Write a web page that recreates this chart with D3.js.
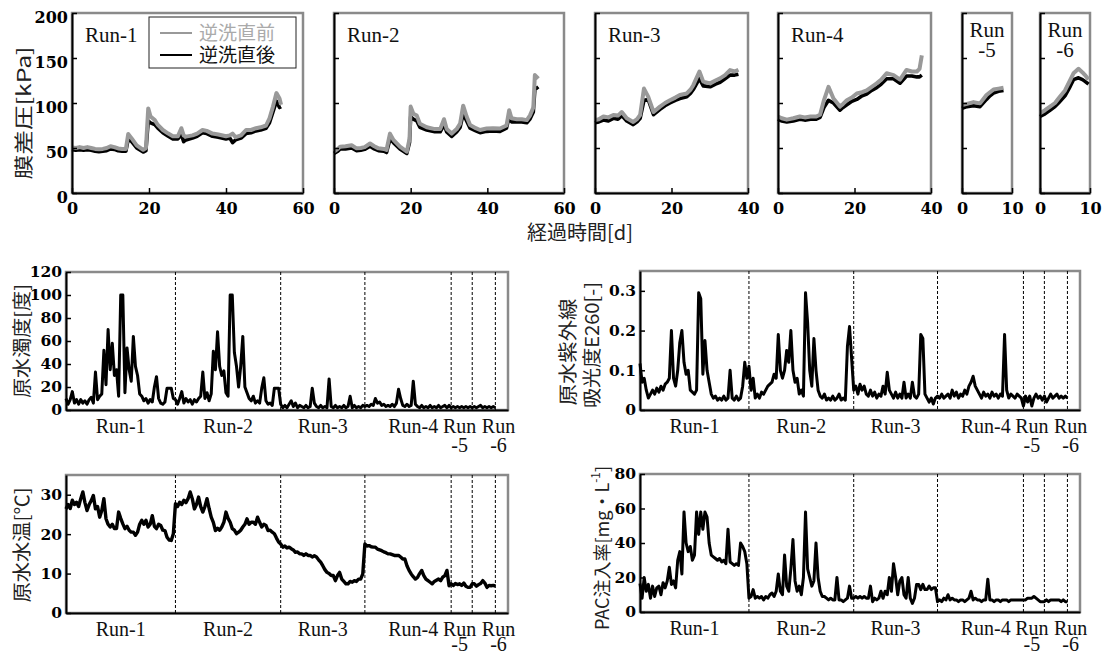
<!DOCTYPE html>
<html><head><meta charset="utf-8">
<script src="https://cdn.jsdelivr.net/npm/d3@7"></script>
<style>
body{margin:0;background:#fff}svg{display:block}
text.num{font-family:"DejaVu Serif",serif;font-weight:bold}
text.ser{font-family:"Liberation Serif","DejaVu Serif",serif;font-weight:normal}
text.cjk{font-family:"Noto Sans CJK JP",sans-serif}
</style>
</head><body>
<svg id="c" width="1106" height="655"></svg>
<script>
// ---------- DATA: membrane differential pressure [kPa] per run ----------
const tmpTicks = [0, 50, 100, 150, 200];
const run1Day = [0,1,2,3,4,5,6,7,8,9,10,11,12,13,14,14.6,15.5,16.8,18.5,19.2,19.8,20.4,21.5,22.3,23.6,25,26.2,27.5,28.4,29,29.6,31.3,32.5,33.9,35,36.5,38,40,41,41.7,42.5,43.9,45.2,46.5,47.8,49,50.4,51.3,52.2,53.1,53.9,54.3];
const run1Before = [50.7,50,51,50,51,50,49,48.5,49,50,52,51,49.5,49,49,65.6,60.7,53,48,50,94,85,81,75.6,70,66,63,63,72,64,62.6,64,66,70,69,66,65,63,64,66,62,64,70,70,72,73,75,83,96,111,105,98];
const run1After = [48,47.5,48,47.5,48,47.5,46.5,46,46.5,47,49,48.5,47,46.5,46.5,60,57,50,45.5,47,80,78,76,72,67,63,60,60,65,57,59,61,63,67,66,63,62,60,61,56,59,61,66,67,69,70,72,78,90,102,95,96];
const run2Day = [0,1,1.6,3,4.6,5.9,7,8,9.4,10.5,11.6,13,13.7,14.6,15.5,17.2,19,19.7,20,20.7,21.6,22.4,24.2,26.3,27.7,28.7,29.4,30.7,32,32.9,33.7,34.6,35.5,37,38.1,39.8,41.5,43.3,45,45.7,46.3,47.7,49,50.3,51.1,52,52.4,53.3];
const run2Before = [46,49,51.5,52,53,49.6,50,51,55,52,49.6,49,47.8,66,59,51.5,46,60,96,88,86,77,73,71,71,82,71,66,71,77,97,85,75.6,72,70,71.6,72,71.6,75,92,83,82,82,81,86,95,131,127];
const run2After = [44,46.5,49,49,50,47,47.5,48.5,52,49,47,46.5,45,60,56,49,44,56,85,82,80,73,70,68,68,76,68,63,68,73,88,80,72,69,67,68.5,69,68.5,72,85,79,79,79,78,82,90,115,118];
const run3Day = [0,1,2.2,3.5,4.8,6,7,8.3,10,11,11.8,12.8,13.9,15.3,17,18.3,19.6,21,22.2,24,25,25.7,27.3,28.3,30.1,31.5,32.7,34,35.3,36.5,37.5];
const run3Before = [81,82,85,84,86.7,86,90,83,79,82,86.7,116,107,90,96,100,103,106,108.9,110.6,115,119.8,135,123.7,121.8,125,127.4,131,136.6,135,137];
const run3After = [78,79,81,80,83,82,86,80,76,79,83,103,104,87,93,97,100,103,105,107,111,115,127,119,118,121,123,127,131,131,132];
const run4Day = [0,1,2.3,4,5.7,7,8.5,10,11,12,13.2,14.5,16.2,17,18,19.3,20.6,22,23.2,24.5,25.8,27,28.4,30.2,31.9,33.6,35,36.3,37,37.6];
const run4Before = [85,83,81.5,83,85,84,85,85,87,103,118,105,96,99,103,106,110.6,112,114,118,121.8,126,133,131,125.9,136.7,135,135,138,153];
const run4After = [82,80,79,80,82,81,82,82,84,95,103,100,92,95,98,102,104,108,110,114,117,121,127,127,122,130,130,129,129,131];
const run5Day = [0,1,2.3,3.6,4.9,5.6,6.3,7.3,8.3];
const run5Before = [97.8,99,101,99.6,108.9,112,115,116,117];
const run5After = [94,96,97,96,104,108,111,113,114];
const run6Day = [0,1,2,3,3.7,5,6,6.7,7.7,8.5,9,9.7];
const run6Before = [88.5,92,96,100,105,114,125,133,138,134,131,126];
const run6After = [85,88,92,96,100,108,118,126,128,126,124,121];

// ---------- DATA: raw water quality, one value per elapsed day (0..204) ----------
const turbidity = [
 10,5,9,16,6,9,5,9,6,8,5,9,11,6,33,9,12,14,52,22,70,35,58,30,35,12,100,100,15,54,35,25,64,38,30,14,12,8,10,6,9,7,20,29,10,6,5,7,19,19,19,10,
 9,5,10,16,6,10,7,9,5,9,7,10,12,33,10,15,8,14,51,35,68,38,30,34,15,12,100,100,50,38,20,38,64,20,15,10,8,12,6,8,6,19,28,8,5,6,4,19,19,19,
 5,2,4,2,5,8,3,6,2,4,3,2,4,2,3,19,6,3,2,4,2,3,2,27,3,2,4,2,3,2,4,2,3,12,2,4,2,3,2,4,
 3,4,3,5,4,10,6,7,4,5,3,4,3,5,3,6,18,10,4,3,5,3,4,25,5,3,2,4,2,3,2,4,2,3,2,4,2,3,4,2,4,
 2,3,2,3,2,3,2,3,2,3,2,3,2,3,4,2,3,2,3,2,3,2];
const uvAbs = [
 0.117,0.07,0.08,0.05,0.03,0.04,0.05,0.04,0.055,0.045,0.06,0.05,0.065,0.07,0.08,0.2,0.08,0.06,0.1,0.17,0.2,0.12,0.09,0.1,0.05,0.045,0.04,0.05,0.295,0.28,0.09,0.175,0.1,0.07,0.04,0.03,0.035,0.025,0.03,0.025,0.035,0.025,0.03,0.1,0.03,0.025,0.035,0.025,0.03,0.06,0.12,0.08,
 0.11,0.05,0.08,0.03,0.04,0.03,0.045,0.04,0.05,0.06,0.065,0.07,0.09,0.08,0.19,0.1,0.08,0.1,0.15,0.12,0.2,0.1,0.07,0.08,0.04,0.05,0.035,0.295,0.22,0.1,0.06,0.18,0.1,0.05,0.035,0.03,0.04,0.025,0.03,0.025,0.035,0.025,0.03,0.04,0.025,0.03,0.025,0.16,0.21,0.13,
 0.05,0.06,0.04,0.065,0.05,0.06,0.04,0.035,0.05,0.035,0.045,0.03,0.04,0.035,0.06,0.04,0.095,0.05,0.04,0.03,0.045,0.03,0.04,0.03,0.07,0.03,0.04,0.03,0.07,0.035,0.03,0.04,0.19,0.18,0.04,0.03,0.02,0.03,0.015,0.03,
 0.035,0.03,0.04,0.03,0.035,0.04,0.03,0.05,0.035,0.045,0.03,0.04,0.035,0.05,0.04,0.06,0.07,0.085,0.06,0.05,0.04,0.03,0.045,0.035,0.04,0.03,0.045,0.035,0.04,0.03,0.04,0.035,0.19,0.05,0.03,0.04,0.035,0.03,0.04,0.035,0.03,
 0.01,0.035,0.02,0.035,0.01,0.03,0.04,0.03,0.035,0.025,0.035,0.02,0.03,0.04,0.03,0.035,0.04,0.03,0.035,0.03,0.035,0.03];
const waterTemp = [
 26.4,27.5,26.5,28.6,27.5,28.1,27,29,30.7,28,26,27.5,28.5,29.8,26.4,27,24.3,26,29,23.9,22.5,21.8,22.5,21.4,21.4,25.6,24,22.6,21.4,22,21,20.5,20.5,19.7,20.5,22.5,23.5,22.5,23.5,21.8,22.5,24.7,22,21.4,22.5,22.2,21,20.9,19.2,18.5,18.4,20.1,
 27.7,27,28.1,27.5,28.6,28,29,30.7,29,26.4,27.5,29.4,27,25.6,27,29,26.5,24.3,23,20.9,21.5,21,21.8,23,25.6,24,23,21.4,21,20.1,20.5,21,21.8,22.5,23.9,22.5,23,23,22.5,24.3,23,21.8,22.5,22.2,20.9,21,20.5,20.1,19,18,
 17.5,16.7,17,16.5,16.7,16.3,16,15.4,15.5,15,15,14.6,15,14.6,14.6,14.2,14.5,14.2,13.5,12.9,12,11,10.3,10,9.5,9.5,8.2,9.5,10.3,8.6,8,7.4,7.4,8,7.8,8.2,8,8.6,8.6,9.9,
 17.5,17,17.1,16.8,16.7,16.7,16.2,16,15.8,15.5,15.3,15,15,14.8,14.6,14.6,14.6,14.2,13.7,13.7,12,10.8,9.9,9.2,8.6,9,10,10.8,9.5,8.6,8.2,7.8,7.4,8,8.3,8.6,8.2,9.1,9.5,10.8,6.9,
 7.4,7,7.5,7.2,7.4,7,7.6,6.8,6.5,6.5,7.4,7.4,6.8,7.2,7.5,8.2,7.6,6.5,7,6.9,7,6.8];
const pacDose = [
 16.5,8,20,12,16,8,15,9,14,15,10,17,14,18,26,16,18,14,30,35,22,58,40,35,38,30,33,58,45,58,48,58,55,40,33,32,31,30,31,29,30,28,48,29,28,27,28,27,40,38,35,28,
 8,9,13,8,9,8,9,7,9,8,10,11,9,12,22,12,10,33,15,12,25,42,18,12,15,10,20,58,25,20,15,18,40,20,12,9,9,8,7,8,7,7,20,7,7,6,7,8,15,8,
 8,9,8,9,8,9,8,8,15,6,8,7,8,12,8,12,10,20,12,28,20,10,18,20,10,8,20,8,5,8,16,16,13,16,13,13,15,13,14,14,
 6,7,6,8,7,10,7,8,7,7,6,7,7,6,7,8,12,7,8,7,7,6,7,7,19,7,7,6,7,7,6,7,7,7,6,7,7,7,7,7,7,
 7,7,8,8,8,9,8,7,6,6,6,7,6,7,7,7,7,7,6,7,6,6];
const runBounds = [52, 102, 142, 183, 193, 204];
const runLabelDay = [26, 77, 122, 165, 187, 205.5];
const runLabel1 = ["Run-1", "Run-2", "Run-3", "Run-4", "Run", "Run"];
const runLabel2 = ["", "", "", "", "-5", "-6"];
const turbTicks = [0, 20, 40, 60, 80, 100, 120];
const uvTicks = [0, 0.1, 0.2, 0.3];
const tempTicks = [0, 10, 20, 30];
const pacTicks = [0, 20, 40, 60, 80];
const legendNames = ["逆洗直前", "逆洗直後"];

// ---------- DRAWING ----------
const svg = d3.select("#c");
const GREY = "#999";
const FRAME = "#8a8a8a";

function styleAxis(g, fs) {
  g.attr("font-family", null).attr("font-size", null);
  g.select(".domain").attr("stroke", "#000").attr("stroke-width", 2);
  g.selectAll(".tick line").attr("stroke", "#000").attr("stroke-width", 1.5);
  g.selectAll(".tick text").attr("class", "num").attr("font-size", fs).attr("fill", "#000");
}

function vLabel(x, y, txt, len, fs) {
  const t = svg.append("text").attr("class", "cjk").attr("transform", `translate(${x},${y}) rotate(-90)`)
    .attr("text-anchor", "middle").attr("dominant-baseline", "central")
    .attr("font-size", fs).attr("fill", "#222").text(txt);
  if (len) t.attr("textLength", len).attr("lengthAdjust", "spacingAndGlyphs");
  return t;
}

const topPanels = [
  {x0: 72, x1: 303, max: 60, ticks: [0,20,40,60], d: run1Day, b: run1Before, a: run1After, lab: ["Run-1"], yl: true},
  {x0: 334, x1: 564, max: 60, ticks: [0,20,40,60], d: run2Day, b: run2Before, a: run2After, lab: ["Run-2"]},
  {x0: 595, x1: 748, max: 40, ticks: [0,20,40], d: run3Day, b: run3Before, a: run3After, lab: ["Run-3"]},
  {x0: 778, x1: 931, max: 40, ticks: [0,20,40], d: run4Day, b: run4Before, a: run4After, lab: ["Run-4"]},
  {x0: 962, x1: 1012, max: 10, ticks: [0,10], d: run5Day, b: run5Before, a: run5After, lab: ["Run", "-5"]},
  {x0: 1040, x1: 1090, max: 10, ticks: [0,10], d: run6Day, b: run6Before, a: run6After, lab: ["Run", "-6"]}
];
const TY0 = 13, TY1 = 193;
topPanels.forEach(p => {
  const x = d3.scaleLinear().domain([0, p.max]).range([p.x0, p.x1]);
  const y = d3.scaleLinear().domain([0, 200]).range([TY1, TY0]);
  svg.append("rect").attr("x", p.x0).attr("y", TY0).attr("width", p.x1 - p.x0).attr("height", TY1 - TY0)
    .attr("fill", "none").attr("stroke", FRAME).attr("stroke-width", 2.5);
  const line = d3.line().x((v, i) => x(p.d[i])).y(v => y(v));
  svg.append("path").attr("d", line(p.a)).attr("fill", "none").attr("stroke", "#000").attr("stroke-width", 3.6).attr("stroke-linejoin", "round");
  svg.append("path").attr("d", line(p.b)).attr("fill", "none").attr("stroke", GREY).attr("stroke-width", 4).attr("stroke-linejoin", "round");
  const gy = svg.append("g").attr("transform", `translate(${p.x0},0)`)
    .call(d3.axisLeft(y).tickValues(tmpTicks).tickSize(-5).tickSizeOuter(0).tickPadding(4)
      .tickFormat(p.yl ? d3.format("d") : ""));
  styleAxis(gy, 16);
  gy.selectAll(".tick text").attr("dy", "0.62em");
  const gx = svg.append("g").attr("transform", `translate(0,${TY1})`)
    .call(d3.axisBottom(x).tickValues(p.ticks).tickSize(-5).tickSizeOuter(0).tickPadding(10).tickFormat(d3.format("d")));
  styleAxis(gx, 16);
  if (p.lab.length === 1) {
    svg.append("text").attr("class", "ser").attr("x", p.x0 + 13).attr("y", 42).attr("font-size", 21)
      .attr("fill", "#111").text(p.lab[0]);
  } else {
    const cx = (p.x0 + p.x1) / 2;
    p.lab.forEach((s, k) => svg.append("text").attr("class", "ser").attr("x", cx).attr("y", 37 + 20 * k).attr("text-anchor", "middle")
      .attr("font-size", 21).attr("fill", "#111").text(s));
  }
});
// legend
svg.append("rect").attr("x", 149).attr("y", 17).attr("width", 147).attr("height", 51)
  .attr("fill", "#fff").attr("stroke", "#222").attr("stroke-width", 1);
[[GREY, 33], ["#000", 55]].forEach(([c, yy], k) => {
  svg.append("line").attr("x1", 160).attr("x2", 192).attr("y1", yy).attr("y2", yy).attr("stroke", c).attr("stroke-width", 2);
  svg.append("text").attr("class", "cjk").attr("x", 199).attr("y", yy + 7).attr("font-size", 19)
    .attr("fill", k === 0 ? "#aaa" : "#111").text(legendNames[k]);
});
vLabel(22, 113, "膜差圧[kPa]", 133, 19);
svg.append("text").attr("class", "cjk").attr("x", 580).attr("y", 240).attr("text-anchor", "middle")
  .attr("font-size", 20).attr("fill", "#222").text("経過時間[d]");

// lower panels
function lowPanel(cfg) {
  const x = d3.scaleLinear().domain([0, 210]).range([cfg.x0, cfg.x1]);
  const y = d3.scaleLinear().domain(cfg.dom).range([cfg.y1, cfg.y0]);
  svg.append("rect").attr("x", cfg.x0).attr("y", cfg.y0).attr("width", cfg.x1 - cfg.x0).attr("height", cfg.y1 - cfg.y0)
    .attr("fill", "none").attr("stroke", FRAME).attr("stroke-width", 2.5);
  runBounds.forEach(b => svg.append("line").attr("x1", x(b)).attr("x2", x(b)).attr("y1", cfg.y0).attr("y2", cfg.y1)
    .attr("stroke", "#000").attr("stroke-width", 1).attr("stroke-dasharray", "3,2"));
  const line = d3.line().x((v, i) => x(i)).y(v => y(v));
  svg.append("path").attr("d", line(cfg.vals)).attr("fill", "none").attr("stroke", "#000")
    .attr("stroke-width", cfg.sw).attr("stroke-linejoin", "round");
  const gy = svg.append("g").attr("transform", `translate(${cfg.x0},0)`)
    .call(d3.axisLeft(y).tickValues(cfg.ticks).tickSize(-5).tickSizeOuter(0).tickPadding(4).tickFormat(cfg.fmt));
  styleAxis(gy, 15.5);
  const gx = svg.append("g").attr("transform", `translate(0,${cfg.y1})`)
    .call(d3.axisBottom(x).tickValues([]).tickSizeOuter(0));
  styleAxis(gx, 15);
  runLabelDay.forEach((d, k) => {
    svg.append("text").attr("class", "ser").attr("x", x(d)).attr("y", cfg.y1 + 23).attr("text-anchor", "middle")
      .attr("font-size", 20).attr("fill", "#111").text(runLabel1[k]);
    if (runLabel2[k]) svg.append("text").attr("class", "ser").attr("x", x(d)).attr("y", Math.min(cfg.y1 + 42, 651)).attr("text-anchor", "middle")
      .attr("font-size", 20).attr("fill", "#111").text(runLabel2[k]);
  });
}
lowPanel({x0: 66, x1: 508, y0: 272, y1: 410, dom: [0, 120], ticks: turbTicks, fmt: d3.format("d"), vals: turbidity, sw: 3});
lowPanel({x0: 640, x1: 1080, y0: 271, y1: 410, dom: [0, 0.35], ticks: uvTicks, fmt: d3.format(""), vals: uvAbs, sw: 3});
lowPanel({x0: 66, x1: 508, y0: 475, y1: 613, dom: [0, 35], ticks: tempTicks, fmt: d3.format("d"), vals: waterTemp, sw: 3.4});
lowPanel({x0: 640, x1: 1080, y0: 474, y1: 612, dom: [0, 80], ticks: pacTicks, fmt: d3.format("d"), vals: pacDose, sw: 3});

vLabel(20, 341, "原水濁度[度]", 114, 19);
vLabel(566, 352, "原水紫外線", 107, 19);
vLabel(590, 345, "吸光度E260[-]", 126, 19);
vLabel(20, 545, "原水水温[℃]", 115, 19);
const pac = svg.append("text").attr("class", "cjk").attr("transform", "translate(601,548) rotate(-90)")
  .attr("text-anchor", "middle").attr("dominant-baseline", "central")
  .attr("font-size", 18).attr("fill", "#222");
pac.append("tspan").text("PAC注入率[mg・L");
pac.append("tspan").attr("font-size", 12).attr("dy", -7).text("-1");
pac.append("tspan").attr("dy", 7).text("]");
</script>
</body></html>
